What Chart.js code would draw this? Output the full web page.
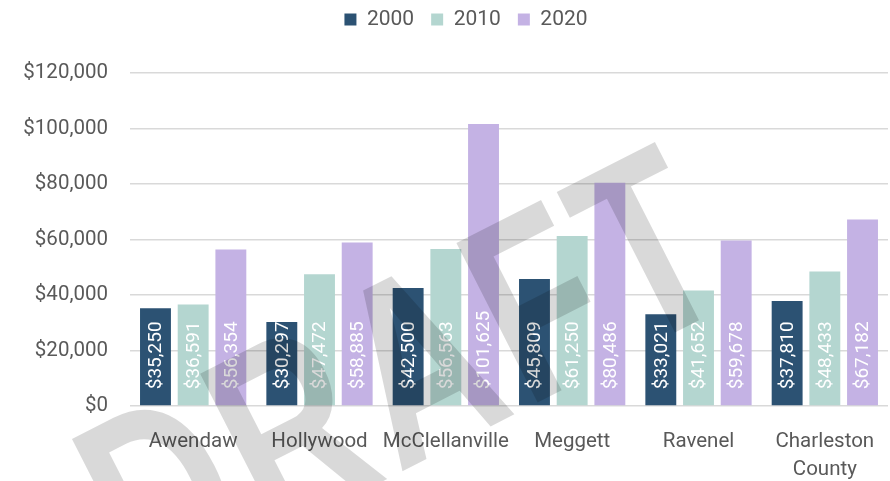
<!DOCTYPE html>
<html>
<head>
<meta charset="utf-8">
<script src="https://cdn.jsdelivr.net/npm/chart.js@4.4.1/dist/chart.umd.min.js"></script>
<style>
	html, body { margin: 0; padding: 0; background: #fff; }
	#wrap { width: 890px; height: 481px; position: relative; }
</style>
</head>
<body>
<div id="wrap"><canvas id="chart"></canvas></div>
<script>
// Median household income by place
const places = ["Awendaw", "Hollywood", "McClellanville", "Meggett", "Ravenel", ["Charleston", "County"]];
const years = ["2000", "2010", "2020"];
const income2000 = [35250, 30297, 42500, 45809, 33021, 37810];
const income2010 = [36591, 47472, 56563, 61250, 41652, 48433];
const income2020 = [56354, 58885, 101625, 80486, 59678, 67182];
const yTicks = [0, 20000, 40000, 60000, 80000, 100000, 120000];

const FONT = "Roboto, 'Liberation Sans', sans-serif";
const TEXT = "#595959";
const colors = ["#2c5273", "#b4d6d0", "#c4b2e4"];

const money = (v) => "$" + v.toLocaleString("en-US");

// Value labels written upward inside each bar, from its base
const barLabels = {
	id: "barLabels",
	afterDatasetsDraw(chart) {
		const { ctx } = chart;
		ctx.save();
		ctx.font = "19px " + FONT;
		ctx.fillStyle = "#ffffff";
		ctx.textAlign = "left";
		ctx.textBaseline = "middle";
		chart.data.datasets.forEach((ds, i) => {
			chart.getDatasetMeta(i).data.forEach((bar, j) => {
				ctx.save();
				ctx.translate(bar.x, bar.base - 16);
				ctx.rotate(-Math.PI / 2);
				ctx.fillText(money(ds.data[j]), 0, 1);
				ctx.restore();
			});
		});
		ctx.restore();
	},
};

// Legend nudge (the original centres it a bit right and higher)
const legendNudge = {
	id: "legendNudge",
	afterLayout(chart) {
		const lg = chart.legend;
		if (!lg) return;
		lg.left += 22;
		lg.right += 22;
		lg.top -= 33;
		lg.bottom -= 33;
	},
};

// DRAFT watermark over everything (tall, condensed letters)
const watermark = {
	id: "watermark",
	afterDraw(chart) {
		const { ctx } = chart;
		ctx.save();
		ctx.translate(142, 604);
		ctx.rotate((-27 * Math.PI) / 180);
		ctx.scale(0.72, 1);
		ctx.font = "bold 260px 'Liberation Sans', sans-serif";
		ctx.letterSpacing = "12px";
		ctx.fillStyle = "rgba(0,0,0,0.15)";
		ctx.textAlign = "left";
		ctx.textBaseline = "alphabetic";
		ctx.fillText("DRAFT", 0, 0);
		ctx.restore();
	},
};

new Chart(document.getElementById("chart"), {
	type: "bar",
	data: {
		labels: places,
		datasets: [
			{ label: years[0], data: income2000, backgroundColor: colors[0] },
			{ label: years[1], data: income2010, backgroundColor: colors[1] },
			{ label: years[2], data: income2020, backgroundColor: colors[2] },
		],
	},
	options: {
		responsive: true,
		maintainAspectRatio: false,
		animation: false,
		layout: { padding: { top: 25, right: 2, left: 0, bottom: 0 } },
		datasets: {
			bar: { categoryPercentage: 0.895, barPercentage: 0.82 },
		},
		scales: {
			x: {
				grid: { display: false },
				border: { display: false },
				ticks: {
					color: TEXT,
					font: { family: FONT, size: 20.5, lineHeight: 1.37 },
					padding: 14,
					maxRotation: 0,
					autoSkip: false,
				},
				afterFit(scale) {
					scale.height = 75;
				},
			},
			y: {
				min: 0,
				max: 120000,
				afterBuildTicks(scale) {
					scale.ticks = yTicks.map((v) => ({ value: v }));
				},
				grid: { color: "#d9d9d9", lineWidth: 1.5, drawTicks: false },
				border: { display: false },
				ticks: {
					color: TEXT,
					font: { family: FONT, size: 20.5 },
					padding: 22,
					callback: (v) => money(v),
				},
				afterFit(scale) {
					scale.width = 130;
				},
			},
		},
		plugins: {
			legend: {
				position: "top",
				labels: {
					color: TEXT,
					font: { family: FONT, size: 21 },
					boxWidth: 12,
					boxHeight: 12,
					padding: 17,
				},
			},
			tooltip: { enabled: false },
		},
	},
	plugins: [barLabels, legendNudge, watermark],
});
</script>
</body>
</html>
